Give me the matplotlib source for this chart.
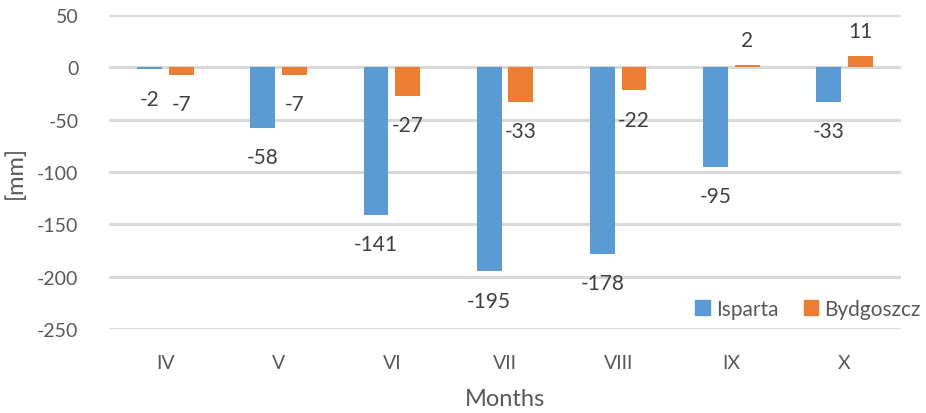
import matplotlib.pyplot as plt
import numpy as np
from matplotlib.patches import Patch

months = ["IV", "V", "VI", "VII", "VIII", "IX", "X"]
isparta = [-2, -58, -141, -195, -178, -95, -33]
bydgoszcz = [-7, -7, -27, -33, -22, 2, 11]

blue = "#5B9BD5"
orange = "#ED7D31"
txt = "#595959"

plt.rcParams['font.family'] = ['Lato', 'DejaVu Sans']
plt.rcParams['axes.unicode_minus'] = False

fig = plt.figure(figsize=(9.26, 4.14), dpi=100)
ax = fig.add_axes([0.1177, 0.2029, 0.8553, 0.7585])

x = np.arange(len(months))
w = 0.22
off = 0.14
b1 = ax.bar(x - off, isparta, w, color=blue, zorder=2)
b2 = ax.bar(x + off, bydgoszcz, w, color=orange, zorder=2)

for bars, vals in ((b1, isparta), (b2, bydgoszcz)):
    for r, v in zip(bars, vals):
        cx = r.get_x() + r.get_width() / 2
        if v < 0:
            ax.annotate(str(v), (cx, v), xytext=(0, -14), textcoords="offset points",
                        ha="center", va="top", fontsize=15, color="#404040")
        else:
            ax.annotate(str(v), (cx, v), xytext=(0, 11), textcoords="offset points",
                        ha="center", va="bottom", fontsize=15, color="#404040")

ax.set_xlim(-0.5, len(months) - 0.5)
ax.set_ylim(-250, 50)
ax.set_yticks(np.arange(-250, 51, 50))
ax.set_xticks(x)
ax.set_xticklabels(months)
ax.tick_params(axis="both", length=0, labelsize=14, colors=txt)
ax.tick_params(axis="x", pad=18)
ax.tick_params(axis="y", pad=22)
ax.yaxis.grid(True, color="#D9D9D9", linewidth=2.2, zorder=0)
ax.set_axisbelow(True)
for s in ax.spines.values():
    s.set_visible(False)

ax.set_xlabel("Months", fontsize=17, color=txt, labelpad=12)
ax.set_ylabel("[mm]", fontsize=17, color=txt, labelpad=8)

handles = [Patch(color=blue, label="Isparta"), Patch(color=orange, label="Bydgoszcz")]
leg = fig.legend(handles=handles, loc="center", bbox_to_anchor=(808 / 926, 1 - 310 / 414),
                 ncol=2, frameon=True, fontsize=15, handlelength=0.7, handleheight=0.7,
                 handletextpad=0.3, columnspacing=1.2, borderpad=0.2, edgecolor="white",
                 facecolor="white", framealpha=1)
for t in leg.get_texts():
    t.set_color(txt)

fig.savefig("out.png", dpi=100)
